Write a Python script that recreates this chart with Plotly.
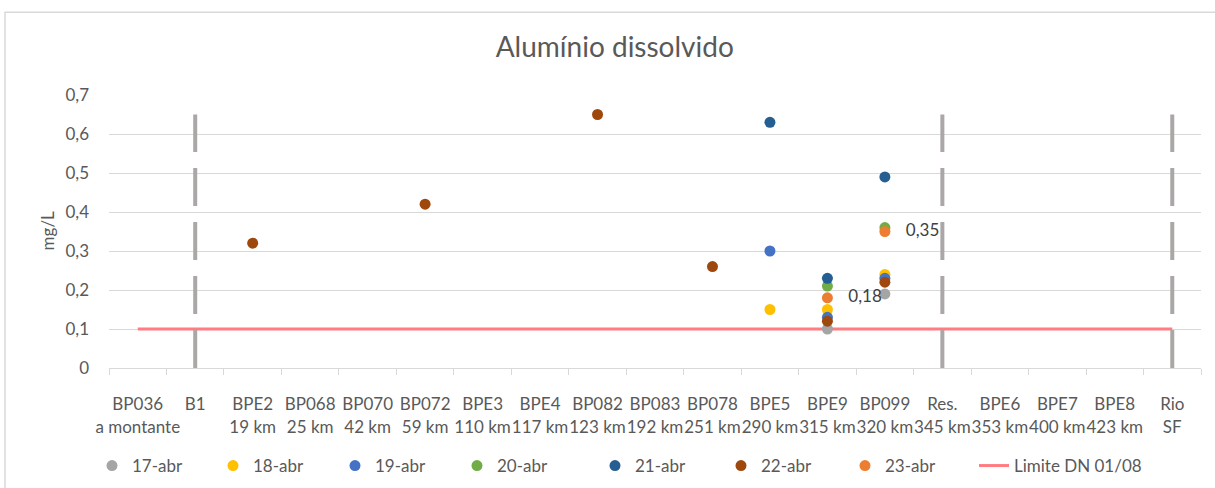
import plotly.graph_objects as go

# ---- data ----
categories = ["BP036<br>a montante", "B1<br> ", "BPE2<br>19 km", "BP068<br>25 km", "BP070<br>42 km",
              "BP072<br>59 km", "BPE3<br>110 km", "BPE4<br>117 km", "BP082<br>123 km", "BP083<br>192 km",
              "BP078<br>251 km", "BPE5<br>290 km", "BPE9<br>315 km", "BP099<br>320 km", "Res.<br>345 km",
              "BPE6<br>353 km", "BPE7<br>400 km", "BPE8<br>423 km", "Rio<br>SF"]
N = None
s17 = [N, N, N, N, N, N, N, N, N, N, N, N, 0.10, 0.19, N, N, N, N, N]
s18 = [N, N, N, N, N, N, N, N, N, N, N, 0.15, 0.15, 0.24, N, N, N, N, N]
s19 = [N, N, N, N, N, N, N, N, N, N, N, 0.30, 0.13, 0.23, N, N, N, N, N]
s20 = [N, N, N, N, N, N, N, N, N, N, N, N, 0.21, 0.36, N, N, N, N, N]
s21 = [N, N, N, N, N, N, N, N, N, N, N, 0.63, 0.23, 0.49, N, N, N, N, N]
s22 = [N, N, 0.32, N, N, 0.42, N, N, 0.65, N, 0.26, N, 0.12, 0.22, N, N, N, N, N]
s23 = [N, N, N, N, N, N, N, N, N, N, N, N, 0.18, 0.35, N, N, N, N, N]
series_names = ["17-abr", "18-abr", "19-abr", "20-abr", "21-abr", "22-abr", "23-abr"]
series_values = [s17, s18, s19, s20, s21, s22, s23]
series_colors = ["#A5A5A5", "#FFC000", "#4472C4", "#70AD47", "#255E91", "#9E480E", "#ED7D31"]
limit_value = 0.1
limit_name = "Limite DN 01/08"
divider_categories = ["B1<br> ", "Res.<br>345 km", "Rio<br>SF"]
divider_top = 0.65
y_ticks = [0, 0.1, 0.2, 0.3, 0.4, 0.5, 0.6, 0.7]
y_ticktext = ["0", "0,1", "0,2", "0,3", "0,4", "0,5", "0,6", "0,7"]

FONT = "Lato"
TXT = "#595959"

# legend entry left edges (pixels) for each series, then the limit line
legend_px = [92, 213, 335, 457, 595, 721, 845, 974]
LEGEND_Y = 1 - 466 / 488

fig = go.Figure()

# limit line (first category to last)
fig.add_trace(go.Scatter(
    x=categories, y=[limit_value] * len(categories), mode="lines", name=limit_name,
    line=dict(color="#FF7C80", width=3), legend="legend8", hoverinfo="skip"))

# dashed dividers
for c in divider_categories:
    fig.add_trace(go.Scatter(
        x=[c, c], y=[0, divider_top], mode="lines", showlegend=False, hoverinfo="skip",
        line=dict(color="#ABA7A7", width=4, dash="38px,16px")))

for i, (nm, vals, col) in enumerate(zip(series_names, series_values, series_colors)):
    if nm == "23-abr":
        kw = dict(mode="markers+text",
                  text=["\u00a0\u00a0\u00a0" + f"{v:.2f}".replace(".", ",") if v is not None else "" for v in vals],
                  textposition="middle right",
                  textfont=dict(family=FONT, size=17, color="#404040"))
    else:
        kw = dict(mode="markers")
    fig.add_trace(go.Scatter(
        x=categories, y=vals, name=nm, legend="legend" if i == 0 else f"legend{i + 1}",
        marker=dict(color=col, size=11, line=dict(width=0)), **kw))

legends = {}
for i, px in enumerate(legend_px):
    key = "legend" if i == 0 else f"legend{i + 1}"
    legends[key] = dict(orientation="h", xref="container", yref="container", x=px / 1215,
                        xanchor="left", y=LEGEND_Y, yanchor="middle",
                        font=dict(family=FONT, size=17, color=TXT))

fig.update_layout(
    width=1215, height=488,
    margin=dict(l=109, r=14, t=95, b=120),
    paper_bgcolor="white", plot_bgcolor="white",
    font=dict(family=FONT, size=17, color=TXT),
    title=dict(text="Alumínio dissolvido", x=0.506, xanchor="center", y=1 - 47 / 488,
               yanchor="middle", font=dict(family=FONT, size=28, color=TXT)),
    showlegend=True,
    **legends,
    xaxis=dict(type="category", categoryorder="array", categoryarray=categories,
               tickangle=0, showgrid=False, showline=True, linecolor="#D9D9D9", linewidth=1,
               ticks="outside", ticklen=6, tickcolor="#D9D9D9", tickson="boundaries",
               tickfont=dict(family=FONT, size=17, color=TXT), ticklabelstandoff=21,
               range=[-0.5, len(categories) - 0.5], fixedrange=True),
    yaxis=dict(range=[0, 0.7], tickvals=y_ticks, ticktext=y_ticktext, showgrid=True,
               gridcolor="#D9D9D9", gridwidth=1, zeroline=False, showline=False,
               tickfont=dict(family=FONT, size=17, color=TXT), ticklabelstandoff=19),
    annotations=[dict(text="mg/L", xref="paper", yref="paper", x=(47 - 109) / 1092, y=0.504,
                      textangle=-90, showarrow=False, xanchor="center", yanchor="middle",
                      font=dict(family=FONT, size=17, color=TXT))],
    shapes=[dict(type="rect", xref="paper", yref="paper",
                 x0=(5 - 109) / 1092, x1=1.2, y0=-1.0, y1=1 + (94.7 - 12) / 273,
                 line=dict(color="#D9D9D9", width=1.5), fillcolor="rgba(0,0,0,0)", layer="below")],
)

fig.write_html("out.html", config={"displayModeBar": False},
               post_script="document.body.style.margin='0';")
